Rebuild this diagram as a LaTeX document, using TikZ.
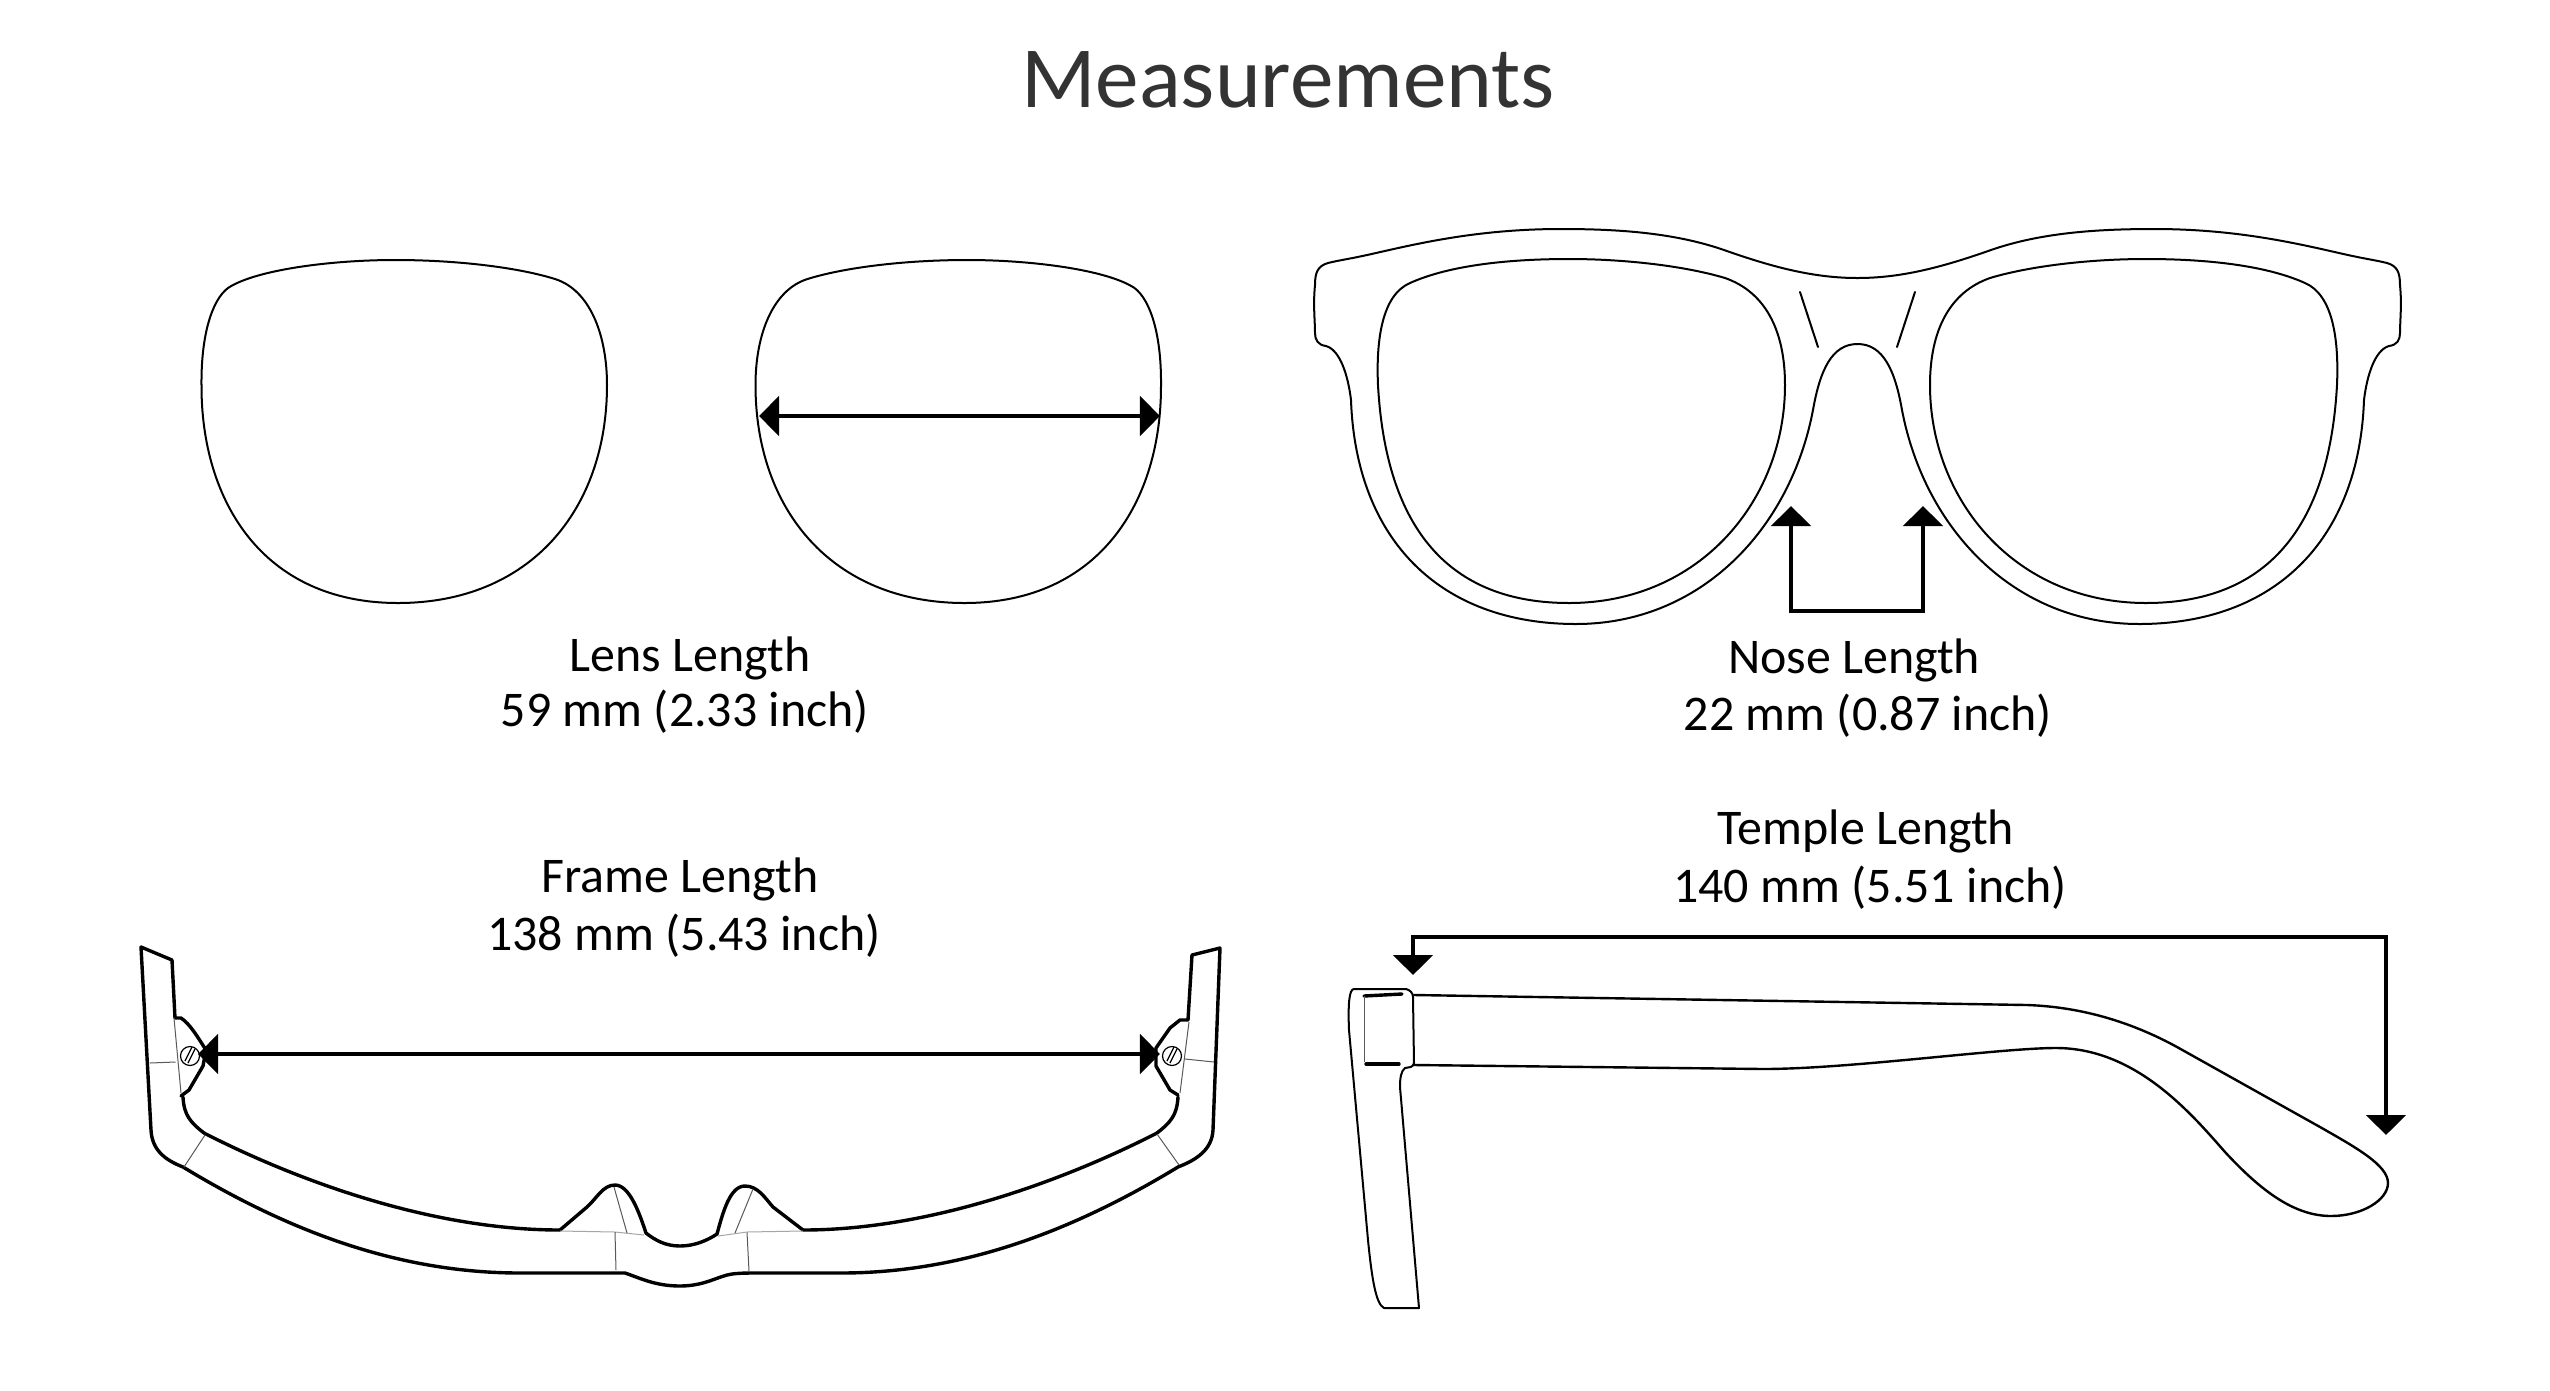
\documentclass[tikz,border=0pt]{standalone}
\usepackage{fontspec}
\setmainfont{Carlito}
\usetikzlibrary{arrows.meta}
\tikzset{
  outline/.style={draw=black,line width=0.02cm,line join=round,line cap=round},
  sideline/.style={draw=black,line width=0.024cm,line join=round,line cap=round},
  topline/.style={draw=black,line width=0.034cm,line join=round,line cap=round},
  hair/.style={draw=black!65,line width=0.01cm},
  faint/.style={draw=black!35,line width=0.01cm},
  screw/.style={draw=black,line width=0.012cm},
  dim/.style={draw=black,line width=0.048cm,line join=miter,{Triangle[length=0.2cm,width=0.39cm]}-{Triangle[length=0.2cm,width=0.39cm]}},
  label/.style={font=\fontsize{14.2}{16}\selectfont,anchor=base,inner sep=0pt,text=black},
  heading/.style={font=\fontsize{24.8}{28}\selectfont,anchor=base,inner sep=0pt,text=black!80},
}
\newcommand{\lensshape}{(395,260) .. controls (460,260) and (520,268) .. (555,279) .. controls (590,290) and (607,335) .. (607,385) .. controls (607,510) and (530,603) .. (398,603) .. controls (262,603) and (201,500) .. (201.5,385) .. controls (201,335) and (212,300) .. (228,288) .. controls (255,270) and (330,260) .. (395,260) -- cycle}
\newcommand{\frontlens}{(1569,259) .. controls (1625,259) and (1685,266) .. (1725,278) .. controls (1765,292) and (1785,330) .. (1785,385) .. controls (1785,500) and (1700,603) .. (1569,603) .. controls (1450,603) and (1386,530) .. (1378,385) .. controls (1376,340) and (1382,295) .. (1410,283) .. controls (1450,265) and (1510,259) .. (1569,259) -- cycle}
\newcommand{\fronthalf}{(1857.5,278) .. controls (1815,278) and (1775,268) .. (1724,250) .. controls (1675,233) and (1620,229) .. (1561,229) .. controls (1480,229) and (1420,243) .. (1376,253) .. controls (1350,259) and (1340,260) .. (1328,263) .. controls (1318,266) and (1315,272) .. (1315,285) .. controls (1313,305) and (1315,320) .. (1315,333) .. controls (1315,340) and (1318,345) .. (1326,346) .. controls (1340,350) and (1348,375) .. (1351,400) .. controls (1356,540) and (1440,624) .. (1576,624) .. controls (1700,624) and (1790,530) .. (1813,410) .. controls (1820,370) and (1832,344) .. (1857.5,344)}
\begin{document}
\begin{tikzpicture}[x=0.01cm,y=-0.01cm]
\useasboundingbox (0,0) rectangle (2550,1390);
\fill[white] (0,0) rectangle (2550,1390);

% title and labels
\node[heading] (title) at (1288,107) {Measurements};
\node[label] (lens1) at (690,671) {Lens Length};
\node[label] (lens2) at (685,726) {59 mm (2.33 inch)};
\node[label] (nose1) at (1854,673) {Nose Length};
\node[label] (nose2) at (1868,730) {22 mm (0.87 inch)};
\node[label] (frame1) at (680,892) {Frame Length};
\node[label] (frame2) at (684,950) {138 mm (5.43 inch)};
\node[label] (temple1) at (1866,844) {Temple Length};
\node[label] (temple2) at (1870,902) {140 mm (5.51 inch)};

% lenses
\draw[outline] \lensshape;
\begin{scope}[shift={(1362.5,0)},xscale=-1]
\draw[outline] \lensshape;
\end{scope}
\coordinate (lensL) at (759,416);
\coordinate (lensR) at (1160,416);
\draw[dim] (lensL) -- (lensR);

% front view
\draw[outline] \fronthalf;
\draw[outline] \frontlens;
\draw[outline] (1800,292) -- (1818,347);
\begin{scope}[shift={(3715,0)},xscale=-1]
\draw[outline] \fronthalf;
\draw[outline] \frontlens;
\draw[outline] (1800,292) -- (1818,347);
\end{scope}
\coordinate (noseLtip) at (1791,506);
\coordinate (noseLb) at (1791,611);
\coordinate (noseRb) at (1923,611);
\coordinate (noseRtip) at (1923,506);
\draw[dim] (noseLtip) -- (noseLb) -- (noseRb) -- (noseRtip);

% top view: outer edge
\draw[topline] (172,960) -- (141,947) -- (151,1130) .. controls (152,1150) and (165,1160) .. (183,1167) .. controls (290,1232) and (400,1273) .. (520,1273) -- (625,1273) .. controls (640,1278) and (655,1286) .. (680,1286) .. controls (705,1286) and (718,1276) .. (732,1274) .. controls (740,1273) and (748,1273) .. (755,1273) -- (841,1273) .. controls (961,1273) and (1071,1232) .. (1178,1167) .. controls (1196,1160) and (1212,1150) .. (1213,1130) -- (1220,948) -- (1192,955);
% top view: left arm and hinge
\draw[topline] (172,960) -- (175,1018) -- (181,1018) .. controls (190,1024) and (197,1036) .. (206,1050) -- (203,1066) -- (189,1090) -- (181,1096);
\draw[topline] (183,1097) .. controls (184,1115) and (190,1122) .. (204,1133) .. controls (280,1172) and (420,1230) .. (560,1230);
% top view: nose
\draw[topline] (560,1230) -- (587,1207) .. controls (597,1198) and (603,1185) .. (615,1185) .. controls (630,1185) and (640,1215) .. (646,1233) .. controls (655,1240) and (665,1246) .. (680,1246) .. controls (695,1246) and (708,1240) .. (717,1234) .. controls (723,1212) and (730,1186) .. (745,1186) .. controls (758,1186) and (765,1198) .. (773,1207) -- (803,1230);
% top view: right arm and hinge
\draw[topline] (803,1230) .. controls (941,1230) and (1081,1172) .. (1157,1133) .. controls (1171,1122) and (1177,1115) .. (1178,1097);
\draw[topline] (1178,1095) -- (1170,1090) -- (1156,1066) -- (1156,1048) -- (1170,1028) -- (1180,1020) -- (1188,1020) -- (1192,955);
% top view: thin joints
\draw[hair] (174,1018) -- (181,1093);
\draw[hair] (150,1063) -- (175.5,1062);
\draw[hair] (184,1167) -- (205,1135);
\draw[faint] (560,1231) -- (615,1232) -- (644,1235);
\draw[hair] (615,1232) -- (616,1270);
\draw[hair] (614,1187) -- (627,1233);
\draw[hair] (753,1189) -- (735,1233);
\draw[hair] (747,1232) -- (749,1271);
\draw[faint] (718,1236) -- (747,1232) -- (803,1231);
\draw[hair] (1185,1059) -- (1214,1062);
\draw[hair] (1157,1134) -- (1179,1165);
\draw[hair] (1189,1022) -- (1180,1093);
% screws
\draw[screw] (190,1056) circle[radius=9.5];
\draw[screw] (185,1061) -- (192,1047);
\draw[screw] (188,1063) -- (195,1049);
\draw[screw] (1172,1056) circle[radius=9.5];
\draw[screw] (1167,1061) -- (1174,1047);
\draw[screw] (1170,1063) -- (1177,1049);
\coordinate (frameL) at (198,1054);
\coordinate (frameR) at (1160,1054);
\draw[dim] (frameL) -- (frameR);

% side view
\draw[sideline] (1414,995) -- (2027,1005) .. controls (2085,1007) and (2135,1024) .. (2177,1047) -- (2320,1127) .. controls (2355,1147) and (2388,1165) .. (2388,1183) .. controls (2388,1200) and (2362,1216) .. (2331,1216) .. controls (2295,1216) and (2262,1192) .. (2225,1152) .. controls (2190,1112) and (2135,1048) .. (2056,1048) .. controls (2000,1048) and (1850,1069) .. (1763,1069) -- (1414,1065);
\draw[outline] (1354,989) -- (1406,989) .. controls (1410,990) and (1413,993) .. (1413,997) -- (1414,1063) .. controls (1413,1068) and (1409,1067) .. (1405,1068) .. controls (1401,1071) and (1400,1078) .. (1400,1087) -- (1419,1308) -- (1384,1308) .. controls (1376,1304) and (1372,1280) .. (1368,1240) -- (1349,1030) .. controls (1348,1005) and (1349,989) .. (1354,989) -- cycle;
\draw[topline] (1402,994) -- (1364,996);
\draw[hair] (1364,996) -- (1364,1062);
\draw[topline] (1366,1064) -- (1399,1064);
\coordinate (templeR) at (2386,1135);
\coordinate (templeRt) at (2386,937);
\coordinate (templeLt) at (1413,937);
\coordinate (templeL) at (1413,975);
\draw[dim] (templeR) -- (templeRt) -- (templeLt) -- (templeL);
\end{tikzpicture}
\end{document}
